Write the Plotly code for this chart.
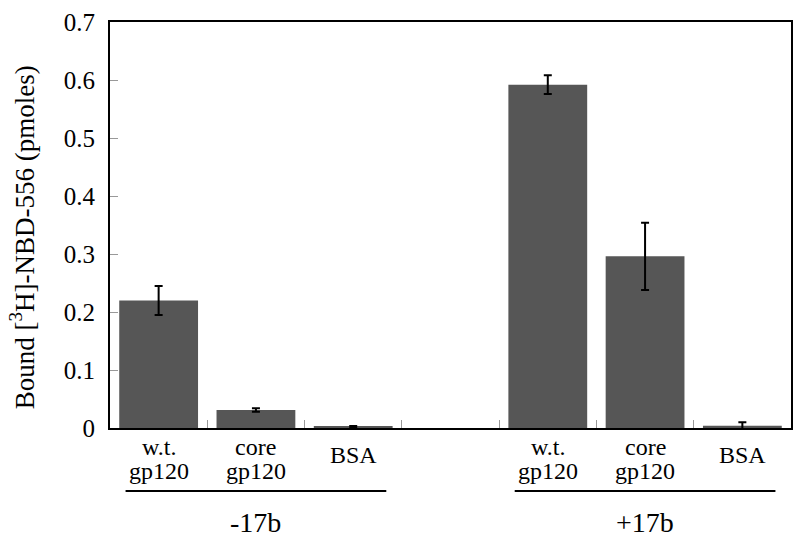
import plotly.graph_objects as go

# ---- data ----
positions = [0, 1, 2, 3, 4, 5, 6]
label_line1 = ["w.t.", "core", "BSA", "", "w.t.", "core", "BSA"]
label_line2 = ["gp120", "gp120", "", "", "gp120", "gp120", ""]
bound_values = [0.22, 0.031, 0.002, None, 0.592, 0.296, 0.004]
bound_errors = [0.025, 0.003, 0.0015, None, 0.016, 0.058, 0.006]
group_names = ["-17b", "+17b"]
group_centers = [1, 5]
y_ticks = [0, 0.1, 0.2, 0.3, 0.4, 0.5, 0.6, 0.7]
y_tick_text = ["0", "0.1", "0.2", "0.3", "0.4", "0.5", "0.6", "0.7"]

SERIF = "Liberation Serif, Times New Roman, serif"
L, R, T, B = 110, 7, 22, 110
W, H = 800, 538
plot_h = H - T - B


def py(pix):
    """pixel row -> paper y"""
    return (H - B - pix) / plot_h


fig = go.Figure()
fig.add_trace(go.Bar(
    x=positions,
    y=bound_values,
    width=0.81,
    marker=dict(color="#565656", line=dict(width=0)),
    error_y=dict(type="data", array=bound_errors, visible=True,
                 color="black", thickness=2, width=4),
    showlegend=False,
))

annotations = []
for xi, l1, l2 in zip(positions, label_line1, label_line2):
    if not l1:
        continue
    if l2:
        annotations.append(dict(x=xi, y=py(447), xref="x", yref="paper", text=l1,
                                showarrow=False, xanchor="center", yanchor="middle",
                                font=dict(family=SERIF, size=24, color="black")))
        annotations.append(dict(x=xi, y=py(471), xref="x", yref="paper", text=l2,
                                showarrow=False, xanchor="center", yanchor="middle",
                                font=dict(family=SERIF, size=24, color="black")))
    else:
        annotations.append(dict(x=xi, y=py(455), xref="x", yref="paper", text=l1,
                                showarrow=False, xanchor="center", yanchor="middle",
                                font=dict(family=SERIF, size=24, color="black")))

shapes = []
for gname, gc in zip(group_names, group_centers):
    annotations.append(dict(x=gc, y=py(522), xref="x", yref="paper", text=gname,
                            showarrow=False, xanchor="center", yanchor="middle",
                            font=dict(family=SERIF, size=28, color="black")))
    shapes.append(dict(type="line", xref="x", yref="paper",
                       x0=gc - 1.34, x1=gc + 1.34, y0=py(491), y1=py(491),
                       line=dict(color="black", width=2)))

annotations.append(dict(x=(22 - L) / (W - L - R), y=py(237), xref="paper", yref="paper",
                        text="Bound [<sup>3</sup>H]-NBD-556 (pmoles)", textangle=-90,
                        showarrow=False, xanchor="center", yanchor="middle",
                        font=dict(family=SERIF, size=27, color="black")))

fig.update_layout(
    width=W, height=H,
    margin=dict(l=L, r=R, t=T, b=B),
    paper_bgcolor="white", plot_bgcolor="white",
    font=dict(family=SERIF, color="black"),
    xaxis=dict(range=[-0.5, 6.5], tickvals=[0.5, 1.5, 2.5, 3.5, 4.5, 5.5],
               showticklabels=False, ticks="inside", ticklen=8, tickcolor="#999999",
               tickwidth=1, showline=True, linecolor="black", linewidth=2,
               mirror=True, showgrid=False, zeroline=False),
    yaxis=dict(range=[0, 0.7], tickvals=y_ticks, ticktext=y_tick_text,
               ticks="inside", ticklen=8, tickcolor="#999999", tickwidth=1,
               tickfont=dict(family=SERIF, size=25, color="black"),
               ticklabelstandoff=8,
               showline=True, linecolor="black", linewidth=2, mirror=True,
               showgrid=False, zeroline=False),
    annotations=annotations,
    shapes=shapes,
)

fig.write_html("out.html",
               config={"displayModeBar": False},
               post_script="document.body.style.margin='0';document.body.style.overflow='hidden';")
